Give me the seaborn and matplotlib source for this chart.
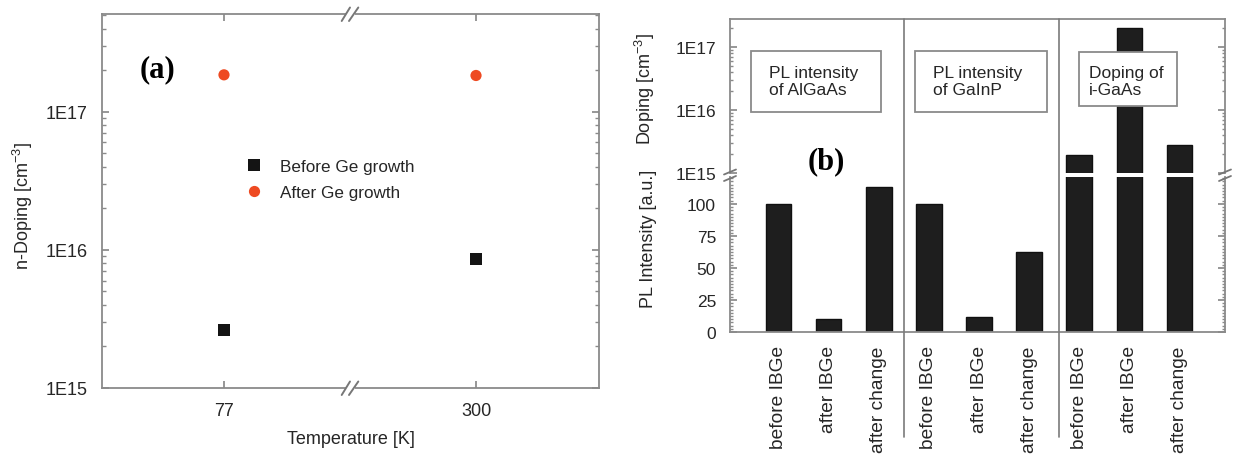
import matplotlib
matplotlib.use("Agg")
import matplotlib.pyplot as plt
import matplotlib.transforms as mtransforms
import numpy as np
import pandas as pd
import seaborn as sns
from matplotlib.lines import Line2D
from matplotlib.patches import Rectangle
from matplotlib.ticker import FixedLocator, FuncFormatter, LogLocator, MultipleLocator, NullFormatter

# ---------------- data ----------------
temps = ["77", "300"]
series_names = ["Before Ge growth", "After Ge growth"]
before_ge = [2.63e15, 8.6e15]
after_ge = [1.85e17, 1.83e17]

bar_groups = ["AlGaAs"] * 3 + ["GaInP"] * 3 + ["i-GaAs"] * 3
bar_labels = ["before IBGe", "after IBGe", "after change"] * 3
pl_algaas = [100, 10, 113.5]
pl_gainp = [100, 12, 62.5]
doping_igaas = [1.95e15, 2.0e17, 2.8e15]
panel_titles = ["PL intensity\nof AlGaAs", "PL intensity\nof GaInP", "Doping of\ni-GaAs"]

# ---------------- style ----------------
sns.set_theme(style="white")
plt.rcParams["font.family"] = ["Liberation Sans", "DejaVu Sans"]
plt.rcParams["mathtext.fontset"] = "custom"
plt.rcParams["mathtext.rm"] = "Liberation Sans"
plt.rcParams["mathtext.it"] = "Liberation Sans:italic"
TXT = "#262626"
SPINE = "#8a8a8a"
plt.rcParams["text.color"] = TXT
plt.rcParams["axes.labelcolor"] = TXT
plt.rcParams["xtick.color"] = TXT
plt.rcParams["ytick.color"] = TXT

W, H = 1236, 456
fig = plt.figure(figsize=(W / 100, H / 100), dpi=100)
fig.patch.set_facecolor("white")


def rect(x0, y0, x1, y1):
    return [x0 / W, 1 - y1 / H, (x1 - x0) / W, (y1 - y0) / H]


def fig_line(xs, ys, **kw):
    fig.add_artist(Line2D([x / W for x in xs], [1 - y / H for y in ys],
                          transform=fig.transFigure, **kw))


def fig_white(x0, y0, x1, y1):
    fig.add_artist(Rectangle((x0 / W, 1 - y1 / H), (x1 - x0) / W, (y1 - y0) / H,
                             transform=fig.transFigure, facecolor="white",
                             edgecolor="none", zorder=9))


def log_fmt(v, _):
    return f"1E{int(round(np.log10(v)))}"


def style_spines(ax, lw=1.3):
    for s in ax.spines.values():
        s.set_color(SPINE)
        s.set_linewidth(lw)


# ---------------- panel (a) ----------------
axA = fig.add_axes(rect(102, 15, 599, 389))
dfA = pd.DataFrame({
    "Temperature": temps * 2,
    "Doping": before_ge + after_ge,
    "Series": [series_names[0]] * 2 + [series_names[1]] * 2,
})
sns.scatterplot(data=dfA, x="Temperature", y="Doping", hue="Series", style="Series",
                markers={series_names[0]: "s", series_names[1]: "o"},
                palette={series_names[0]: "#141414", series_names[1]: "#ee4a22"},
                s=65, linewidth=0, ax=axA)
axA.set_yscale("log")
axA.set_ylim(1e15, 5.1e17)
axA.set_xlim(-0.484, 1.488)
axA.yaxis.set_major_locator(FixedLocator([1e15, 1e16, 1e17]))
axA.yaxis.set_major_formatter(FuncFormatter(log_fmt))
axA.yaxis.set_minor_locator(LogLocator(base=10, subs=range(2, 10)))
axA.yaxis.set_minor_formatter(NullFormatter())
style_spines(axA)
axA.tick_params(axis="both", which="both", direction="in", color=SPINE,
                left=True, right=True, top=True, bottom=True, labelsize=13)
axA.tick_params(axis="y", which="major", length=5, pad=10.5)
axA.tick_params(axis="y", which="minor", length=3)
axA.tick_params(axis="x", which="major", length=5, pad=10)
axA.set_xlabel("Temperature [K]", fontsize=13)
axA.xaxis.set_label_coords(0.5, -0.112)
axA.set_ylabel("n-Doping [cm$^{-3}$]", fontsize=13)
axA.yaxis.set_label_coords(-0.135, 0.49)
h, l = axA.get_legend_handles_labels()
axA.legend(h, l, loc="upper left", bbox_to_anchor=(0.289, 0.612), frameon=False,
           fontsize=12.3, handlelength=1.0, handletextpad=1.0, labelspacing=0.62,
           borderpad=0, borderaxespad=0, title=None)
axA.text(0.111, 0.853, "(a)", transform=axA.transAxes, ha="center", va="center",
         fontsize=22, fontweight="bold", family=["Liberation Serif", "DejaVu Serif"],
         color="black")

# axis break marks on panel (a)
for yb in (15, 389):
    fig_white(345.5, yb - 2.5, 354.5, yb + 2.5)
    fig_line([341.7, 350.0], [yb + 7, yb - 6.5], color="#777777", lw=1.4, zorder=10)
    fig_line([349.0, 358.3], [yb + 7, yb - 6.5], color="#777777", lw=1.4, zorder=10)

# ---------------- panel (b) ----------------
PL_TOP = 121
DOP_LIM = (1e15, 2.78e17)
keys = [f"{g}|{b}" for g, b in zip(bar_groups, bar_labels)]
values = np.array(pl_algaas + pl_gainp + doping_igaas, dtype=float)
dfB = pd.DataFrame({"key": keys, "value": values})
# lower (linear) segment: the doping bars run off the top of this axis
dfB_low = pd.DataFrame({"key": keys, "value": np.minimum(values, PL_TOP * 1.05)})

axL = fig.add_axes(rect(730, 178, 1225, 333))
axU = fig.add_axes(rect(730, 20, 1225, 174))

bar_kw = dict(color="#1e1e1e", saturation=1, width=0.51, edgecolor="#101010",
              linewidth=1, zorder=2)
sns.barplot(data=dfB_low, x="key", y="value", order=keys, ax=axL, **bar_kw)
sns.barplot(data=dfB, x="key", y="value", order=keys, ax=axU, **bar_kw)
axU.set_yscale("log", nonpositive="clip")

for ax in (axL, axU):
    ax.set_xlim(-0.97, 8.91)
    style_spines(ax)

# lower (PL intensity, linear)
axL.set_ylim(0, PL_TOP)
axL.spines["top"].set_visible(False)
axL.yaxis.set_major_locator(MultipleLocator(25))
axL.yaxis.set_minor_locator(MultipleLocator(2.5))
axL.tick_params(axis="y", which="both", direction="in", color=SPINE, left=True, right=True,
                labelsize=12.5, pad=10)
axL.tick_params(axis="y", which="major", length=5)
axL.tick_params(axis="y", which="minor", length=2.5)
axL.set_xticks(range(len(bar_labels)))
axL.set_xticklabels(bar_labels, rotation=90, fontsize=13.8)
axL.tick_params(axis="x", length=0, pad=9.5)
axL.set_xlabel("")
axL.set_ylabel("PL Intensity [a.u.]", fontsize=13)
axL.yaxis.set_label_coords(-0.147, 0.606)

# upper (doping, log)
axU.set_ylim(*DOP_LIM)
axU.spines["bottom"].set_visible(False)
axU.yaxis.set_major_locator(FixedLocator([1e15, 1e16, 1e17]))
axU.yaxis.set_major_formatter(FuncFormatter(log_fmt))
axU.yaxis.set_minor_locator(LogLocator(base=10, subs=range(2, 10)))
axU.yaxis.set_minor_formatter(NullFormatter())
axU.tick_params(axis="y", which="both", direction="in", color=SPINE, left=True, right=True,
                labelsize=12.5, pad=10)
axU.tick_params(axis="y", which="major", length=5)
axU.tick_params(axis="y", which="minor", length=2.5)
axU.tick_params(axis="x", bottom=False, labelbottom=False)
axU.set_xlabel("")
axU.set_ylabel("Doping [cm$^{-3}$]", fontsize=13)
axU.yaxis.set_label_coords(-0.147, 0.549)

# group boxes (drawn over the bars, white filled)
box_rects = [(0.042, 0.396, 0.305, 0.792), (0.374, 0.396, 0.640, 0.792), (0.705, 0.435, 0.903, 0.786)]
text_x = [0.079, 0.411, 0.726]
for (x0, y0, x1, y1), tx, title in zip(box_rects, text_x, panel_titles):
    axU.add_artist(Rectangle((x0, y0), x1 - x0, y1 - y0, transform=axU.transAxes,
                             facecolor="white", edgecolor=SPINE, lw=1.3, zorder=20))
    axU.text(tx, 0.597, title, transform=axU.transAxes, ha="left", va="center",
             fontsize=12.5, zorder=21, linespacing=1.2)

axU.text(0.194, 0.078, "(b)", transform=axU.transAxes, ha="center", va="center",
         fontsize=22, fontweight="bold", family=["Liberation Serif", "DejaVu Serif"],
         color="black", zorder=21)

# group separators
blend = mtransforms.blended_transform_factory(axL.transData, fig.transFigure)
for xs in (2.5, 5.6):
    fig.add_artist(Line2D([xs, xs], [1 - 20 / H, 1 - 438 / H], transform=blend,
                          color="#7a7a7a", lw=1.2, zorder=4))

# break marks on the y spines of panel (b)
for xb in (730, 1225):
    fig_line([xb - 6, xb + 6], [175.5, 170.5], color="#777777", lw=1.3, zorder=10)
    fig_line([xb - 6, xb + 6], [182.0, 177.0], color="#777777", lw=1.3, zorder=10)

fig.savefig("out.png", dpi=100, facecolor="white")
